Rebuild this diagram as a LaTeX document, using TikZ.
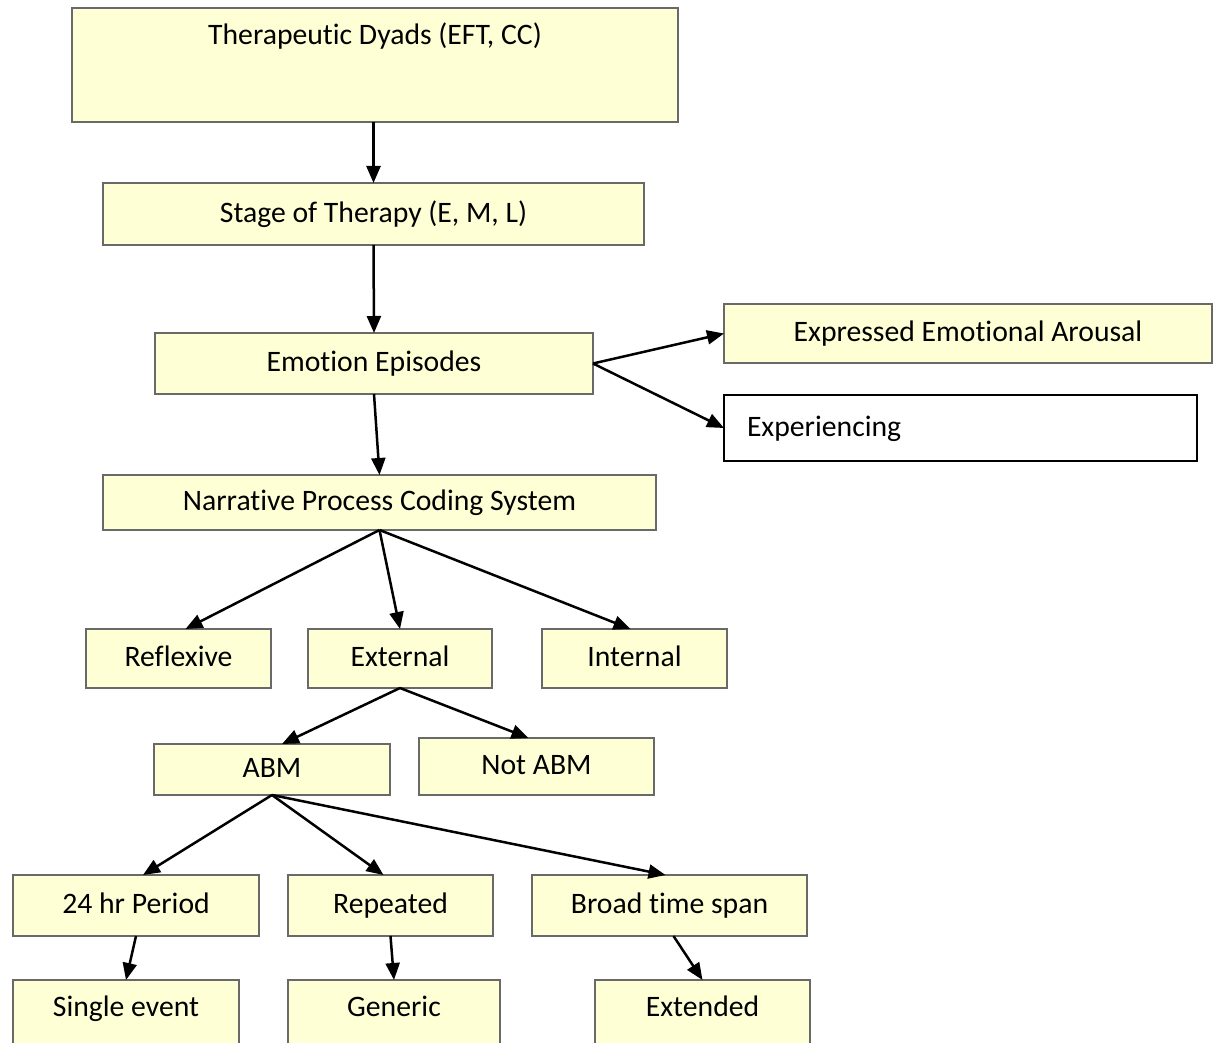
\documentclass[tikz,border=0pt]{standalone}
\usepackage{fontspec}
\setmainfont[Ligatures=NoCommon]{Carlito}
\usetikzlibrary{arrows.meta}
\definecolor{boxfill}{RGB}{255,255,214}
\definecolor{boxline}{RGB}{105,105,105}
\tikzset{
  txt/.style={font=\fontsize{14.85}{18}\selectfont, text height=10.5pt, text depth=2.3pt},
  box/.style={txt, draw=boxline, fill=boxfill, line width=1pt, inner sep=0pt, outer sep=0pt},
  whitebox/.style={txt, draw=black, fill=white, line width=0.7pt, inner sep=0pt, outer sep=0pt},
  lbl/.style={txt, inner sep=0pt},
  arr/.style={line width=1.25pt, -{Triangle[length=8.5pt,width=7pt]}}
}
\begin{document}
\begin{tikzpicture}[x=0.5pt,y=-0.5pt]
\clip (0,0) rectangle (1217,1043);
\fill[white] (0,0) rectangle (1217,1043);
% boxes
\node[box, minimum width=303pt, minimum height=57pt] (dyads) at (375,65) {};
\node[lbl] (dyadsT) at (375,36) {Therapeutic Dyads (EFT, CC)};
\node[box, minimum width=270.5pt, minimum height=31pt] (stage) at (373.5,214) {Stage of Therapy (E, M, L)};
\node[box, minimum width=219pt, minimum height=30.5pt] (emo) at (374,363.5) {Emotion Episodes};
\node[box, minimum width=244pt, minimum height=29.5pt] (expr) at (968,333.5) {Expressed Emotional Arousal};
\node[whitebox, minimum width=236.5pt, minimum height=33pt, inner xsep=11.5pt, text width=213.5pt, align=left] (exper) at (960.5,428) {Experiencing};
\node[box, minimum width=276.5pt, minimum height=27.5pt] (narr) at (379.5,502.5) {Narrative Process Coding System};
\node[box, minimum width=92.5pt, minimum height=29.5pt] (refl) at (178.5,658.5) {Reflexive};
\node[box, minimum width=92pt, minimum height=29.5pt] (ext) at (400,658.5) {External};
\node[box, minimum width=92.5pt, minimum height=29.5pt] (intl) at (634.5,658.5) {Internal};
\node[box, minimum width=118pt, minimum height=25.5pt] (abm) at (272,769.5) {ABM};
\node[box, minimum width=117.5pt, minimum height=28.5pt] (notabm) at (536.5,766.5) {Not ABM};
\node[box, minimum width=123pt, minimum height=30.5pt] (h24) at (136,905.5) {24 hr Period};
\node[box, minimum width=102.5pt, minimum height=30.5pt] (rep) at (390.5,905.5) {Repeated};
\node[box, minimum width=137.5pt, minimum height=30.5pt] (broad) at (669.5,905.5) {Broad time span};
\node[box, minimum width=113pt, minimum height=40pt] (single) at (126,1020) {};
\node[lbl] (singleT) at (126,1008) {Single event};
\node[box, minimum width=106pt, minimum height=40pt] (generic) at (394,1020) {};
\node[lbl] (genericT) at (394,1008) {Generic};
\node[box, minimum width=107.5pt, minimum height=40pt] (extended) at (702.5,1020) {};
\node[lbl] (extendedT) at (702.5,1008) {Extended};
% connectors
\draw[arr] (stage.north |- dyads.south) -- (stage.north);
\draw[arr] (stage.south) -- (emo.north);
\draw[arr] (emo.east) -- (expr.west);
\draw[arr] (emo.east) -- (exper.west);
\draw[arr] (emo.south) -- (narr.north);
\draw[arr] (narr.south) -- ([xshift=3.5pt]refl.north);
\draw[arr] (narr.south) -- (ext.north);
\draw[arr] (narr.south) -- ([xshift=-2pt]intl.north);
\draw[arr] (ext.south) -- ([xshift=5pt]abm.north);
\draw[arr] (ext.south) -- ([xshift=-4pt]notabm.north);
\draw[arr] (abm.south) -- ([xshift=3.5pt]h24.north);
\draw[arr] (abm.south) -- ([xshift=-3.5pt]rep.north);
\draw[arr] (abm.south) -- ([xshift=-2pt]broad.north);
\draw[arr] (h24.south) -- (single.north);
\draw[arr] (rep.south) -- (generic.north);
\draw[arr] ([xshift=2pt]broad.south) -- (extended.north);
\end{tikzpicture}
\end{document}
